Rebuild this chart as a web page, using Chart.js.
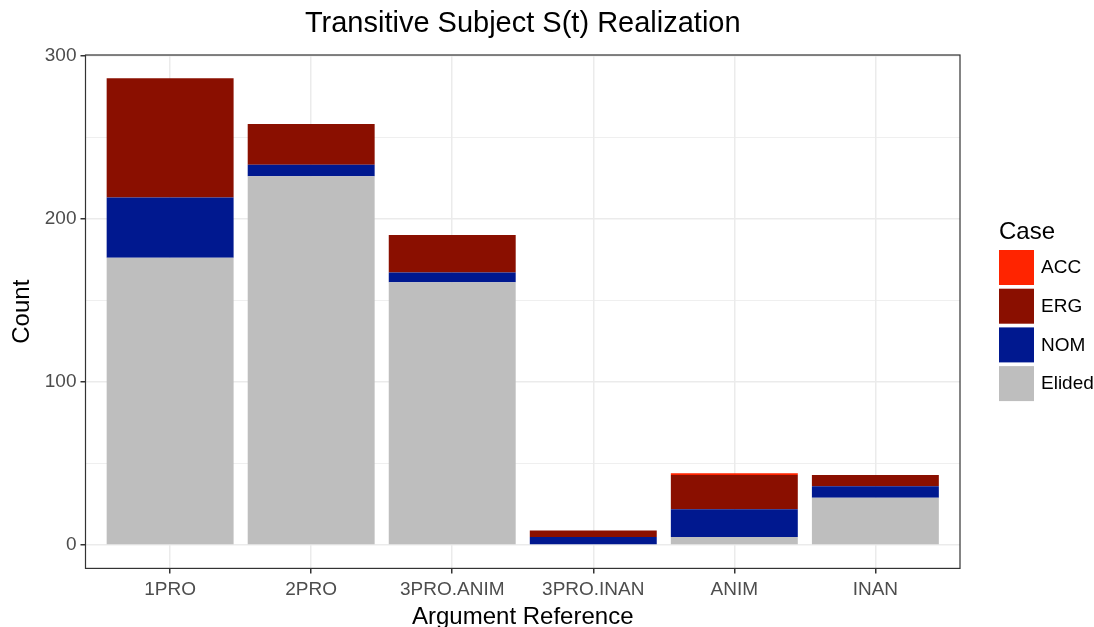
<!DOCTYPE html>
<html>
<head>
<meta charset="utf-8">
<script src="https://cdn.jsdelivr.net/npm/chart.js@4"></script>
<style>
  html, body { margin: 0; padding: 0; background: #fff; }
  #wrap { width: 1094px; height: 627px; position: relative; }
</style>
</head>
<body>
<div id="wrap"><canvas id="chart"></canvas></div>
<script>
// data
const categories = ['1PRO', '2PRO', '3PRO.ANIM', '3PRO.INAN', 'ANIM', 'INAN'];
const elided = [176, 226, 161, 0, 5, 29];
const nom = [37, 7, 6, 5, 17, 7];
const erg = [73, 25, 23, 4, 21, 7];
const acc = [0, 0, 0, 0, 1, 0];
const yTicks = [0, 50, 100, 150, 200, 250, 300];

const FONT = '"Liberation Sans", Arial, Helvetica, sans-serif';
const TITLE = 'Transitive Subject S(t) Realization';

const toPoints = arr => arr.map((v, i) => ({ x: i + 1, y: v }));

// panel border, title over the panel and the legend, drawn the ggplot way
const ggExtras = {
  id: 'ggExtras',
  afterDraw(chart) {
    const { ctx, chartArea: a } = chart;
    ctx.save();
    ctx.strokeStyle = '#333333';
    ctx.lineWidth = 1.2;
    ctx.strokeRect(a.left, a.top, a.right - a.left, a.bottom - a.top);

    ctx.fillStyle = '#000';
    ctx.font = '29px ' + FONT;
    ctx.textAlign = 'center';
    ctx.textBaseline = 'middle';
    ctx.fillText(TITLE, (a.left + a.right) / 2, 24);

    // legend (top item = last dataset)
    const x0 = a.right + 39;
    ctx.textAlign = 'left';
    ctx.font = '24px ' + FONT;
    ctx.fillText('Case', x0, 232);
    const items = chart.data.datasets.slice().reverse();
    ctx.font = '19px ' + FONT;
    items.forEach((ds, i) => {
      const y = 250 + i * 38.7;
      ctx.fillStyle = ds.backgroundColor;
      ctx.fillRect(x0, y, 35, 35);
      ctx.fillStyle = '#000';
      ctx.fillText(ds.label, x0 + 42, y + 18);
    });
    ctx.restore();
  }
};

new Chart(document.getElementById('chart'), {
  type: 'bar',
  data: {
    datasets: [
      { label: 'Elided', data: toPoints(elided), backgroundColor: '#bebebe' },
      { label: 'NOM', data: toPoints(nom), backgroundColor: '#00188f' },
      { label: 'ERG', data: toPoints(erg), backgroundColor: '#8a0f00' },
      { label: 'ACC', data: toPoints(acc), backgroundColor: '#ff2400' }
    ]
  },
  options: {
    responsive: true,
    maintainAspectRatio: false,
    animation: false,
    layout: { padding: { left: 8, right: 134, top: 55, bottom: -5 } },
    datasets: { bar: { barPercentage: 0.9, categoryPercentage: 1, borderWidth: 0 } },
    plugins: {
      legend: { display: false },
      tooltip: { enabled: false },
      title: { display: false }
    },
    scales: {
      x: {
        type: 'linear',
        stacked: true,
        offset: false,
        min: 0.4,
        max: 6.6,
        afterBuildTicks: s => { s.ticks = categories.map((c, i) => ({ value: i + 1 })); },
        ticks: {
          callback: v => categories[v - 1],
          color: '#4d4d4d',
          font: { family: FONT, size: 19 },
          padding: 5,
          maxRotation: 0,
          autoSkip: false
        },
        grid: { offset: false, color: '#ebebeb', lineWidth: 1.5, tickColor: '#333333', tickLength: 5 },
        border: { display: false },
        title: {
          display: true,
          text: 'Argument Reference',
          color: '#000',
          font: { family: FONT, size: 24 },
          padding: { top: -3, bottom: 0 }
        }
      },
      y: {
        stacked: true,
        min: -14.3,
        max: 300.3,
        afterBuildTicks: s => { s.ticks = yTicks.map(v => ({ value: v })); },
        ticks: {
          callback: v => (v % 100 === 0 ? String(v) : ''),
          color: '#4d4d4d',
          font: { family: FONT, size: 19 },
          padding: 4
        },
        grid: {
          color: '#ebebeb',
          lineWidth: c => (c.tick && c.tick.value % 100 === 0 ? 1.5 : 0.8),
          tickColor: c => (c.tick && c.tick.value % 100 === 0 ? '#333333' : 'rgba(0,0,0,0)'),
          tickLength: 5
        },
        border: { display: false },
        title: {
          display: true,
          text: 'Count',
          color: '#000',
          font: { family: FONT, size: 24 },
          padding: { top: 0, bottom: 4 }
        }
      }
    }
  },
  plugins: [ggExtras]
});
</script>
</body>
</html>
